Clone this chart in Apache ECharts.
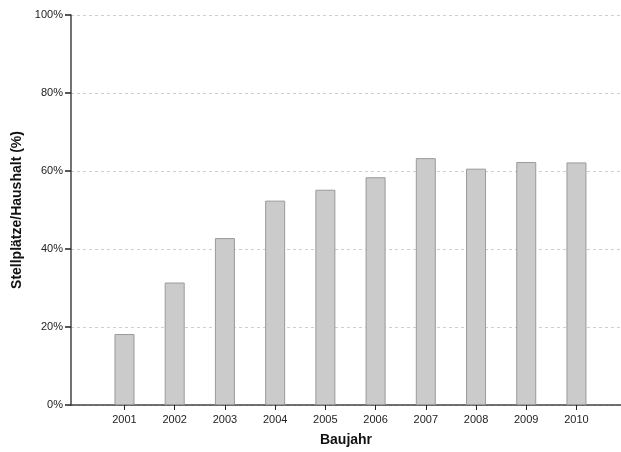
<!DOCTYPE html>
<html>
<head>
<meta charset="utf-8">
<script src="https://cdn.jsdelivr.net/npm/echarts@6/dist/echarts.min.js"></script>
<style>html,body{margin:0;padding:0;background:#fff}#c{width:621px;height:452px}</style>
</head>
<body>
<div id="c"></div>
<script>
const years = [2001, 2002, 2003, 2004, 2005, 2006, 2007, 2008, 2009, 2010];
const values = [18.2, 31.4, 42.8, 52.4, 55.2, 58.4, 63.3, 60.6, 62.3, 62.2];
const yTicks = [0, 20, 40, 60, 80, 100];
const xTitle = 'Baujahr';
const yTitle = 'Stellplätze/Haushalt (%)';

const font = 'Liberation Sans, Arial, sans-serif';
const chart = echarts.init(document.getElementById('c'), null, {renderer: 'canvas'});
chart.setOption({
  animation: false,
  backgroundColor: '#fff',
  grid: {left: 71, right: 0, top: 15, bottom: 44, containLabel: false},
  xAxis: {
    type: 'value',
    min: 1999.935,
    max: 2010.887,
    name: xTitle,
    nameLocation: 'middle',
    nameGap: 28,
    nameTextStyle: {fontFamily: font, fontSize: 14, fontWeight: 'bold', color: '#111'},
    axisLine: {show: true, lineStyle: {color: '#444', width: 1.5}},
    axisTick: {show: true, length: 5, customValues: years, lineStyle: {color: '#222', width: 1}},
    axisLabel: {customValues: years, fontFamily: font, fontSize: 11, color: '#222', margin: 9, formatter: v => String(v)},
    splitLine: {show: false}
  },
  yAxis: {
    type: 'value',
    min: 0,
    max: 100,
    interval: 20,
    name: yTitle,
    nameLocation: 'middle',
    nameGap: 45,
    nameTextStyle: {fontFamily: font, fontSize: 14, fontWeight: 'bold', color: '#111'},
    axisLine: {show: true, lineStyle: {color: '#444', width: 1.5}},
    axisTick: {show: true, inside: false, length: 6, lineStyle: {color: '#222', width: 1.5}},
    axisLabel: {customValues: yTicks, fontFamily: font, fontSize: 11, color: '#222', margin: 8, formatter: '{value}%'},
    splitLine: {show: true, lineStyle: {color: '#cfcfcf', type: [3, 3], width: 1}}
  },
  series: [{
    type: 'bar',
    barWidth: 20,
    data: years.map((y, i) => [y, values[i]]),
    itemStyle: {color: '#cbcbcb', borderColor: '#9a9a9a', borderWidth: 1},
    z: 3
  }]
});
</script>
</body>
</html>
